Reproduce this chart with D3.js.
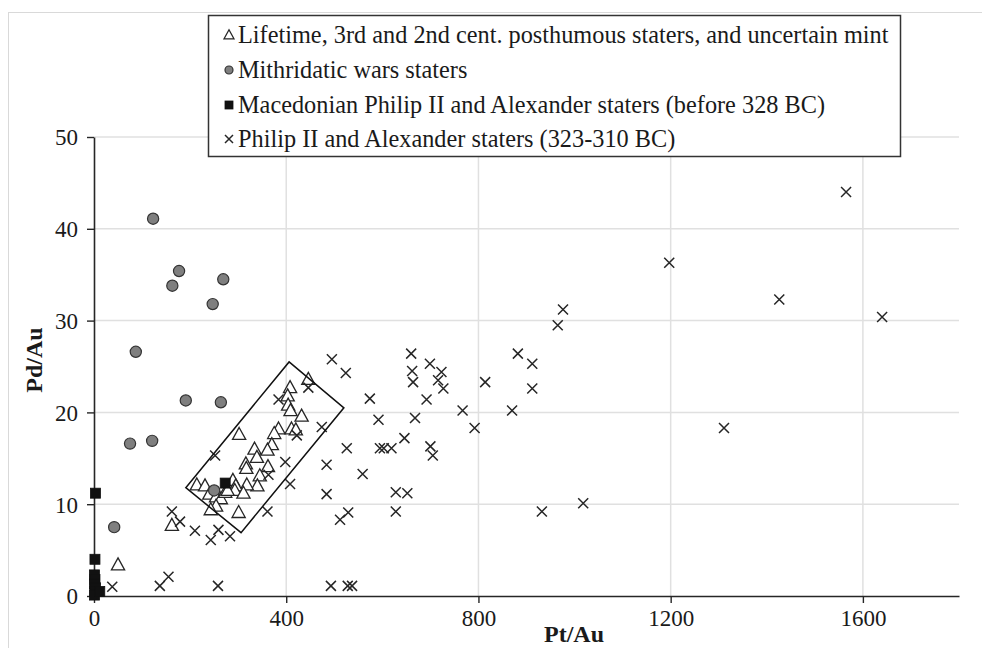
<!DOCTYPE html>
<html><head><meta charset="utf-8">
<script src="https://cdn.jsdelivr.net/npm/d3@7"></script>
<style>
body{margin:0;background:#fff}
svg{display:block;font-family:"Liberation Serif","Times New Roman",serif}
</style>
</head><body>
<svg id="chart" width="982" height="648"></svg>
<script>
// ---- data (Pt/Au, Pd/Au) ----
const seriesNames = [
  "Lifetime, 3rd and 2nd cent. posthumous staters, and uncertain mint",
  "Mithridatic wars staters",
  "Macedonian Philip II and Alexander staters (before 328 BC)",
  "Philip II and Alexander staters (323-310 BC)"
];
const lifetime = [
  [446,23.6],[408,22.7],[403,21.8],[404,20.8],[409,20.2],[432,19.6],[302,17.6],[384,18.2],
  [375,17.7],[411,18.2],[420,18.1],[370,16.5],[334,16.0],[361,15.9],[339,15.1],[316,14.4],
  [317,13.9],[362,14.1],[345,13.1],[340,12.0],[318,12.1],[289,12.6],[295,12.0],[293,11.5],
  [311,11.2],[214,12.1],[231,12.0],[240,11.1],[254,10.8],[264,10.6],[273,11.3],[278,11.5],
  [254,9.8],[243,9.4],[301,9.1],[162,7.7],[50,3.4]
];
const mithridatic = [
  [123,41.1],[177,35.4],[163,33.8],[269,34.5],[247,31.8],[87,26.6],[191,21.3],[264,21.1],
  [75,16.6],[121,16.9],[42,7.5],[250,11.5]
];
const macedonian = [
  [3,11.2],[2,4.0],[1,2.3],[2,1.8],[1,1.3],[3,0.9],[2,0.5],[1,0.1],[12,0.5],[273,12.3]
];
const philip = [
  [38,1.0],[137,1.1],[155,2.1],[258,1.1],[493,1.1],[528,1.1],[537,1.1],
  [162,9.2],[179,8.1],[210,7.1],[259,7.2],[243,6.1],[283,6.5],[252,15.3],
  [361,9.2],[363,13.2],[398,14.6],[408,12.2],[422,17.5],[384,21.4],[446,22.7],[474,18.4],
  [484,14.3],[484,11.1],[495,25.8],[524,24.3],[526,16.1],[529,9.1],[512,8.3],[559,13.3],
  [574,21.5],[592,19.2],[595,16.1],[603,16.1],[619,16.1],[628,11.3],[628,9.2],[646,17.2],
  [652,11.2],[660,26.4],[662,24.5],[664,23.3],[668,19.4],[692,21.4],[699,25.3],[700,16.3],
  [705,15.3],[716,23.5],[723,24.4],[727,22.6],[767,20.2],[792,18.3],[814,23.3],[870,20.2],
  [882,26.4],[912,25.3],[912,22.6],[932,9.2],[965,29.5],[976,31.2],[1018,10.1],[1197,36.3],
  [1311,18.3],[1426,32.3],[1565,44.0],[1640,30.4]
];
const regionOutline = [[191,11.8],[406,25.5],[520,20.5],[306,6.9]];
const xTicks = [0,400,800,1200,1600];
const yTicks = [0,10,20,30,40,50];
const xTitle = "Pt/Au", yTitle = "Pd/Au";

// ---- drawing ----
const svg = d3.select("#chart");
const x = d3.scaleLinear().domain([0,1800]).range([94,959]);
const y = d3.scaleLinear().domain([0,50]).range([596,137]);
const ink = "#262626";
const serif = '"Liberation Serif","Times New Roman",serif';

// outer chart border
svg.append("rect").attr("x",8.5).attr("y",12.5).attr("width",1000).attr("height",700)
  .attr("fill","none").attr("stroke","#d9d9d9").attr("stroke-width",1);

// gridlines
const grid = svg.append("g").attr("stroke","#e0e0e0").attr("stroke-width",1.5);
grid.selectAll("line.h").data(yTicks.filter(d=>d>0)).join("line")
  .attr("x1",x(0)).attr("x2",x(1800)).attr("y1",d=>y(d)).attr("y2",d=>y(d));
grid.selectAll("line.v").data(xTicks.filter(d=>d>0)).join("line")
  .attr("y1",y(0)).attr("y2",y(50)).attr("x1",d=>x(d)).attr("x2",d=>x(d));

// axes
const xAxis = d3.axisBottom(x).tickValues(xTicks).tickSize(7).tickSizeOuter(0).tickPadding(6).tickFormat(d3.format("d"));
const yAxis = d3.axisLeft(y).tickValues(yTicks).tickSize(7).tickSizeOuter(0).tickPadding(9).tickFormat(d3.format("d"));
const gx = svg.append("g").attr("transform",`translate(0,${y(0)})`).call(xAxis);
const gy = svg.append("g").attr("transform",`translate(${x(0)},0)`).call(yAxis);
[gx,gy].forEach(g=>{
  g.select(".domain").attr("stroke",ink).attr("stroke-width",1.6);
  g.selectAll(".tick line").attr("stroke",ink).attr("stroke-width",1.4);
  g.selectAll(".tick text").attr("fill","#1a1a1a").style("font-size","23px")
   .style("font-family",serif);
});
gy.selectAll(".tick text").attr("dy","0.34em");
gx.selectAll(".tick text").attr("dy","0.76em");

// axis titles
svg.append("text").attr("x",574).attr("y",642).attr("text-anchor","middle")
  .style("font-size","24px").style("font-weight","bold").attr("fill","#1a1a1a").text(xTitle);
svg.append("text").attr("transform","translate(42,360) rotate(-90)").attr("text-anchor","middle")
  .style("font-size","24px").style("font-weight","bold").attr("fill","#1a1a1a").text(yTitle);

// marker helpers
const triPath = s => `M0,${-s*0.58}L${s*0.55},${s*0.42}L${-s*0.55},${s*0.42}Z`;
function drawTri(g, cx, cy, s){
  g.append("path").attr("d",triPath(s)).attr("transform",`translate(${cx},${cy})`)
   .attr("fill","#fff").attr("stroke",ink).attr("stroke-width",1.3);
}
function drawCircle(g,cx,cy,r){
  g.append("circle").attr("cx",cx).attr("cy",cy).attr("r",r)
   .attr("fill","#7f7f7f").attr("stroke","#333").attr("stroke-width",1.2);
}
function drawSquare(g,cx,cy,s){
  g.append("rect").attr("x",cx-s/2).attr("y",cy-s/2).attr("width",s).attr("height",s)
   .attr("fill","#111").attr("stroke","#111").attr("stroke-width",0.8);
}
function drawX(g,cx,cy,s){
  const h=s/2;
  g.append("path").attr("d",`M${cx-h},${cy-h}L${cx+h},${cy+h}M${cx-h},${cy+h}L${cx+h},${cy-h}`)
   .attr("stroke",ink).attr("stroke-width",1.5).attr("fill","none");
}

const pts = svg.append("g");
lifetime.forEach(d=>drawTri(pts, x(d[0]), y(d[1]), 12));
mithridatic.forEach(d=>drawCircle(pts, x(d[0]), y(d[1]), 5.6));
macedonian.forEach(d=>drawSquare(pts, x(d[0]), y(d[1]), 10));
philip.forEach(d=>drawX(pts, x(d[0]), y(d[1]), 10));

// outline of the lifetime group
svg.append("path")
  .attr("d", d3.line().x(d=>x(d[0])).y(d=>y(d[1])).curve(d3.curveLinearClosed)(regionOutline))
  .attr("fill","none").attr("stroke","#111").attr("stroke-width",1.5);

// legend
const lg = svg.append("g");
lg.append("rect").attr("x",208.5).attr("y",15.5).attr("width",692).attr("height",141)
  .attr("fill","#fff").attr("stroke","#333").attr("stroke-width",1.5);
const ly = [35,70,105,139];
const drawers = [
  (g,cx,cy)=>drawTri(g,cx,cy,9),
  (g,cx,cy)=>drawCircle(g,cx,cy,4),
  (g,cx,cy)=>drawSquare(g,cx,cy,8),
  (g,cx,cy)=>drawX(g,cx,cy,8)
];
seriesNames.forEach((name,i)=>{
  drawers[i](lg,229,ly[i]);
  lg.append("text").attr("x",238).attr("y",ly[i]+8).style("font-size","24.3px")
    .attr("fill","#1a1a1a").text(name);
});
</script>
</body></html>
